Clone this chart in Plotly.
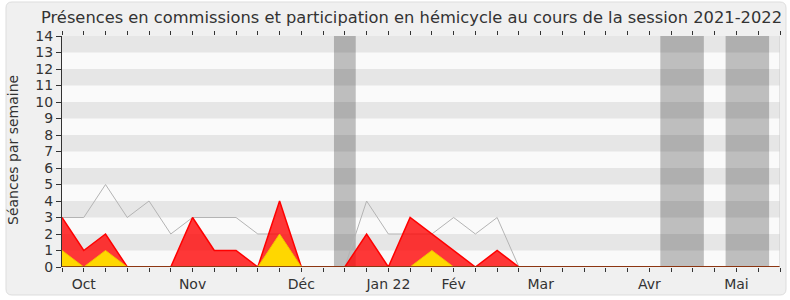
import plotly.graph_objects as go

# ---- data ----
weeks = list(range(34))
hemicycle = [3, 1, 2, 0, 0, 0, 3, 1, 1, 0, 4, 0, 0, 0, 2, 0, 3, 2, 1, 0, 1, 0] + [0] * 12
commissions = [1, 0, 1, 0, 0, 0, 0, 0, 0, 0, 2, 0, 0, 0, 0, 0, 0, 1, 0, 0, 0, 0] + [0] * 12
mediane = [3, 3, 5, 3, 4, 2, 3, 3, 3, 2, 2, 0, 0, 0, 4, 2, 2, 2, 3, 2, 3, 0] + [0] * 12
month_weeks = [1, 6, 11, 15, 18, 22, 27, 31]
month_labels = ["Oct", "Nov", "Déc", "Jan 22", "Fév", "Mar", "Avr", "Mai"]
vacances = [(12.5, 13.5), (27.5, 29.5), (30.5, 32.5)]
title_text = "Présences en commissions et participation en hémicycle au cours de la session 2021-2022"
ytitle_text = "Séances par semaine"

W, H = 790, 300
ML, MR, MT, MB = 62, 10, 36, 33
PW, PH = W - ML - MR, H - MT - MB
XMAX, YMAX = 33, 14


def px2x(px):
    return (px - ML) / PW


def px2y(py):
    return (H - MB - py) / PH


fig = go.Figure()
fig.add_trace(go.Scatter(x=weeks, y=mediane, mode="lines",
                         line=dict(color="#b4b4b4", width=1), hoverinfo="skip"))
fig.add_trace(go.Scatter(x=weeks, y=hemicycle, mode="lines", fill="tozeroy",
                         fillcolor="rgba(255,0,0,0.78)",
                         line=dict(color="#ff0000", width=1.5), hoverinfo="skip"))
fig.add_trace(go.Scatter(x=weeks, y=commissions, mode="lines", fill="tozeroy",
                         fillcolor="#ffd700",
                         line=dict(color="#f2c200", width=1), hoverinfo="skip"))

shapes = []
# rounded outer frame
x0, x1 = px2x(6), px2x(786)
y0, y1 = px2y(295), px2y(2)
rx, ry = 6 / PW, 6 / PH
path = (f"M {x0+rx},{y0} L {x1-rx},{y0} Q {x1},{y0} {x1},{y0+ry} "
        f"L {x1},{y1-ry} Q {x1},{y1} {x1-rx},{y1} L {x0+rx},{y1} "
        f"Q {x0},{y1} {x0},{y1-ry} L {x0},{y0+ry} Q {x0},{y0} {x0+rx},{y0} Z")
shapes.append(dict(type="path", path=path, xref="paper", yref="paper",
                   fillcolor="#f0f0f0", line=dict(color="#dddddd", width=1),
                   layer="below"))
# plot background
shapes.append(dict(type="rect", xref="x", yref="y", x0=0, x1=XMAX, y0=0, y1=YMAX,
                   fillcolor="#fafafa", line=dict(width=0), layer="below"))
# holidays
for a, b in vacances:
    shapes.append(dict(type="rect", xref="x", yref="y", x0=a, x1=b, y0=0, y1=YMAX,
                       fillcolor="#bebebe", line=dict(width=0), layer="below"))
# stripes
for k in range(1, YMAX, 2):
    shapes.append(dict(type="rect", xref="x", yref="y", x0=0, x1=XMAX, y0=k, y1=k + 1,
                       fillcolor="rgba(0,0,0,0.08)", line=dict(width=0), layer="below"))
# baseline and right edge
shapes.append(dict(type="line", xref="x", yref="y", x0=0, x1=XMAX, y0=0, y1=0,
                   line=dict(color="#6a1f10", width=1.5), layer="above"))
shapes.append(dict(type="line", xref="x", yref="y", x0=XMAX, x1=XMAX, y0=0, y1=YMAX,
                   line=dict(color="#cccccc", width=1), layer="above"))

ticktext = [""] * len(weeks)
for w, lab in zip(month_weeks, month_labels):
    ticktext[w] = lab

fig.update_layout(
    width=W, height=H,
    margin=dict(l=ML, r=MR, t=MT, b=MB, autoexpand=False),
    paper_bgcolor="white", plot_bgcolor="rgba(0,0,0,0)",
    showlegend=False,
    shapes=shapes,
    font=dict(family="DejaVu Sans", color="#333333"),
    xaxis=dict(range=[0, XMAX], tickmode="array", tickvals=weeks, ticktext=ticktext,
               ticks="outside", ticklen=4, tickcolor="#333333", tickwidth=1,
               mirror="ticks", showline=False, showgrid=False, zeroline=False,
               tickfont=dict(size=14, color="#333333"), fixedrange=True),
    yaxis=dict(range=[0, YMAX], tickmode="array", tickvals=list(range(YMAX + 1)),
               ticks="outside", ticklen=5, tickcolor="#333333", tickwidth=1,
               showline=True, linecolor="#333333", linewidth=1,
               showgrid=False, zeroline=False,
               tickfont=dict(size=14, color="#333333"), fixedrange=True),
    annotations=[
        dict(text=title_text, xref="paper", yref="paper", x=px2x(411.5), y=px2y(18),
             xanchor="center", yanchor="middle", showarrow=False,
             font=dict(size=16.3, color="#333333")),
        dict(text=ytitle_text, xref="paper", yref="paper", x=px2x(13), y=px2y(150),
             xanchor="center", yanchor="middle", textangle=-90, showarrow=False,
             font=dict(size=14, color="#333333")),
    ],
)

fig.write_html("out.html")
